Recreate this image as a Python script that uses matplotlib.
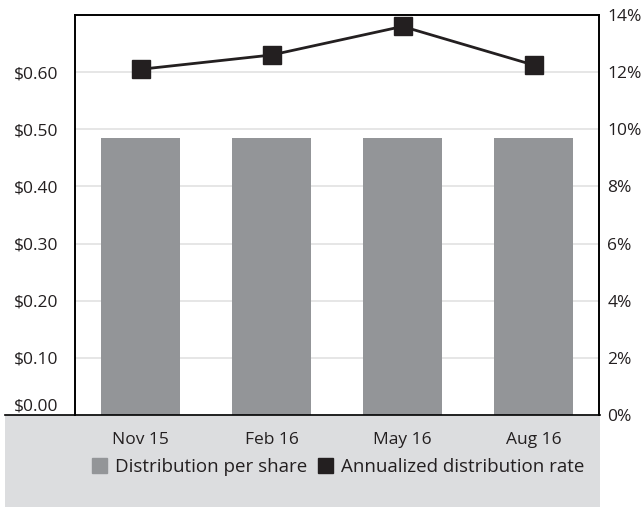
import matplotlib
matplotlib.use("Agg")
import matplotlib.pyplot as plt
from matplotlib.patches import Rectangle
from matplotlib.lines import Line2D
from matplotlib.ticker import FuncFormatter

plt.rcParams['font.family'] = ['Open Sans', 'DejaVu Sans']

# data
quarters = ['Nov 15', 'Feb 16', 'May 16', 'Aug 16']
dist_per_share = [0.484, 0.484, 0.484, 0.484]
annual_rate = [12.1, 12.6, 13.6, 12.25]

bar_color = '#939598'
line_color = '#231f20'
panel_color = '#dcdddf'

fig = plt.figure(figsize=(6.44, 5.07), dpi=100)

# gray panel under the plot
fig.patches.append(Rectangle((5 / 644, 0), 595 / 644, 92 / 507,
                             transform=fig.transFigure, facecolor=panel_color,
                             edgecolor='none', zorder=-1))
fig.lines.append(Line2D([5 / 644, 600 / 644], [92 / 507, 92 / 507],
                        transform=fig.transFigure, color='black', lw=1.2, zorder=5))

ax = fig.add_axes([75 / 644, 92 / 507, 524 / 644, 400 / 507])
x = range(len(quarters))
ax.bar(x, dist_per_share, width=0.6, color=bar_color, zorder=2)
ax.set_xlim(-0.5, 3.5)
ax.set_ylim(0, 0.7)
ax.set_yticks([0, 0.1, 0.2, 0.3, 0.4, 0.5, 0.6])
ax.yaxis.set_major_formatter(FuncFormatter(lambda v, p: f'${v:.2f}'))
ax.grid(axis='y', color='#e2e2e2', lw=1.2, zorder=0)
ax.set_xticks(list(x))
ax.set_xticklabels(quarters)
ax.tick_params(axis='both', length=0, labelsize=12.5, colors='#231f20')
ax.tick_params(axis='x', pad=12)
ax.tick_params(axis='y', pad=12)
# the $0.00 label sits just above the baseline
ax.get_yticklabels()[0].set_verticalalignment('bottom')
for s in ax.spines.values():
    s.set_linewidth(1.2)
ax.spines['bottom'].set_visible(False)

ax2 = ax.twinx()
ax2.plot(x, annual_rate, color=line_color, lw=2, marker='s', markersize=12.5, zorder=3)
ax2.set_ylim(0, 14)
ax2.set_yticks(range(0, 15, 2))
ax2.yaxis.set_major_formatter(FuncFormatter(lambda v, p: f'{v:.0f}%'))
ax2.tick_params(axis='y', length=0, labelsize=12.5, colors='#231f20', pad=6)
for s in ax2.spines.values():
    s.set_linewidth(1.2)
ax2.spines['bottom'].set_visible(False)

handles = [Rectangle((0, 0), 1, 1, color=bar_color),
           Rectangle((0, 0), 1, 1, color=line_color)]
fig.legend(handles, ['Distribution per share', 'Annualized distribution rate'],
           loc='center', bbox_to_anchor=(338 / 644, 40 / 507), ncol=2, frameon=False,
           fontsize=13.5, handlelength=0.8, handleheight=0.8, handletextpad=0.4,
           columnspacing=0.6, labelcolor='#231f20')

fig.savefig('out.png', dpi=100)
